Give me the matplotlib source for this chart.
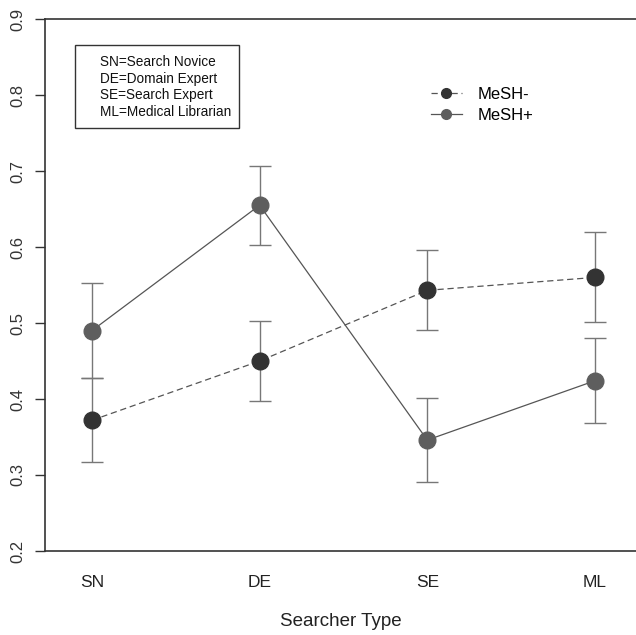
import matplotlib.pyplot as plt
from matplotlib.patches import Rectangle

plt.rcParams['font.family'] = ['Liberation Sans', 'DejaVu Sans']

categories = ["SN", "DE", "SE", "ML"]
mesh_minus = [0.372, 0.450, 0.543, 0.560]
mesh_minus_lo = [0.317, 0.398, 0.491, 0.501]
mesh_minus_hi = [0.427, 0.502, 0.596, 0.620]
mesh_plus = [0.490, 0.655, 0.346, 0.424]
mesh_plus_lo = [0.427, 0.603, 0.291, 0.369]
mesh_plus_hi = [0.552, 0.707, 0.401, 0.480]
yticks = [0.2, 0.3, 0.4, 0.5, 0.6, 0.7, 0.8, 0.9]
key_lines = ["SN=Search Novice", "DE=Domain Expert", "SE=Search Expert", "ML=Medical Librarian"]

xs = list(range(1, len(categories) + 1))

fig = plt.figure(figsize=(6.36, 6.35), dpi=100)
ax = fig.add_axes([0.0708, 0.1323, 0.9292, 0.8377])

def draw_series(vals, lo, hi, color, dashed, label):
    err = [[v - l for v, l in zip(vals, lo)], [h - v for v, h in zip(vals, hi)]]
    ax.errorbar(xs, vals, yerr=err, fmt='none', ecolor='#777777', elinewidth=1.0,
                capsize=8, capthick=1.0, zorder=2)
    line_kw = dict(color='#555555', lw=0.9)
    if dashed:
        line_kw['dashes'] = (5, 3)
    ax.plot(xs, vals, zorder=3, **line_kw)
    ax.plot(xs, vals, 'o', color=color, ms=12, zorder=4)
    # legend handle
    return ax.plot([], [], marker='o', ms=7, markerfacecolor=color,
                   markeredgecolor=color, label=label, **line_kw)[0]

h1 = draw_series(mesh_minus, mesh_minus_lo, mesh_minus_hi, '#333333', True, 'MeSH-')
h2 = draw_series(mesh_plus, mesh_plus_lo, mesh_plus_hi, '#5e5e5e', False, 'MeSH+')

ax.set_xlim(0.72, 4.245)
ax.set_ylim(0.2, 0.9)
ax.set_yticks(yticks)
ax.set_yticklabels([f"{t:.1f}" for t in yticks], rotation=90, va='center', fontsize=12, color='#333333')
ax.set_xticks(xs)
ax.set_xticklabels(categories, fontsize=12.5, color='#222222')
ax.tick_params(axis='x', length=0, pad=17)
ax.tick_params(axis='y', length=7, width=1, color='#333333', pad=7)
ax.spines['right'].set_visible(False)
for s in ['left', 'top', 'bottom']:
    ax.spines[s].set_color('#333333')
    ax.spines[s].set_linewidth(1.2)
ax.set_xlabel("Searcher Type", fontsize=13.5, color='#222222', labelpad=17)

ax.legend(handles=[h1, h2], loc='upper left', bbox_to_anchor=(0.653, 0.872), frameon=False,
          fontsize=12, handlelength=1.86, labelspacing=0.36, handletextpad=0.95,
          borderpad=0, borderaxespad=0)

# key box with the abbreviations
ax.add_patch(Rectangle((0.0508, 0.795), 0.2775, 0.156, transform=ax.transAxes,
                       facecolor='white', edgecolor='#333333', lw=1, zorder=5))
for i, line in enumerate(key_lines):
    ax.text(0.093, 0.919 - i * 0.031, line, transform=ax.transAxes, fontsize=9.8,
            va='center', ha='left', color='#111111', zorder=6)

fig.savefig("out.png", dpi=100)
